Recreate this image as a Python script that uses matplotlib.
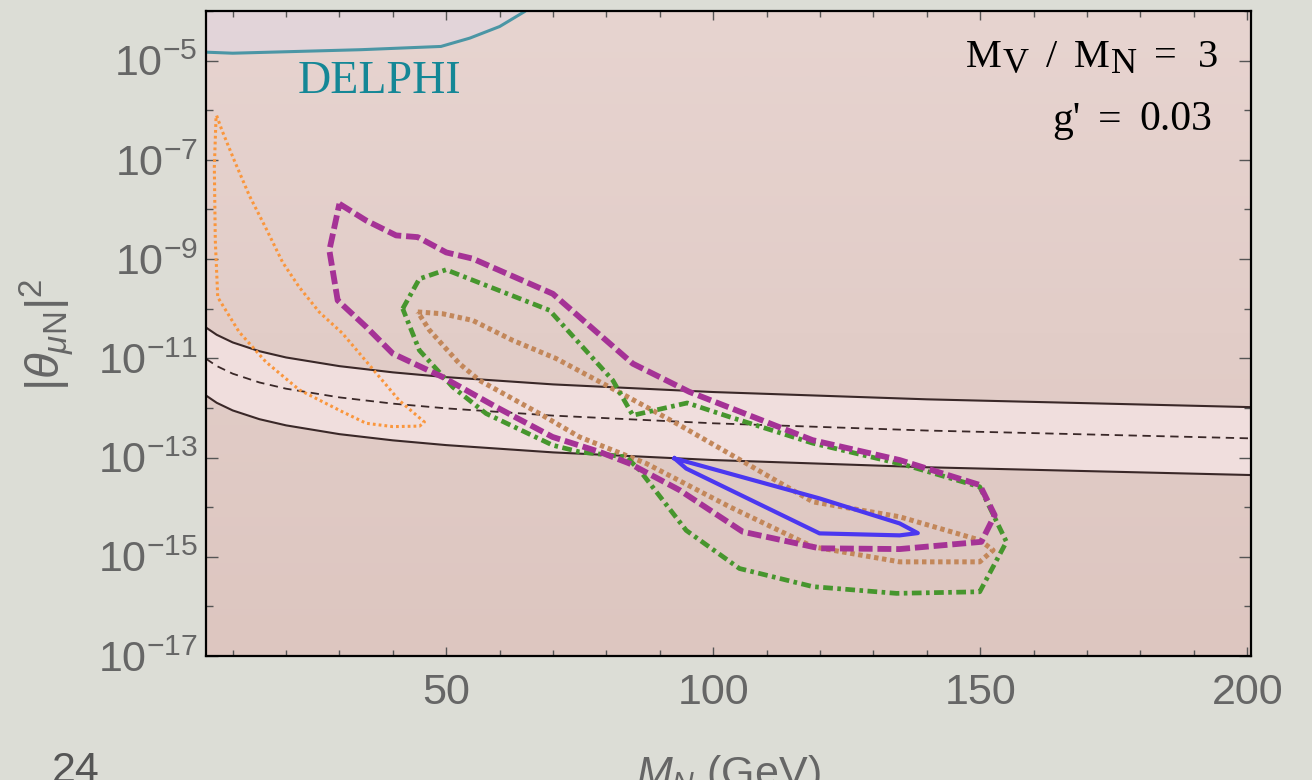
import numpy as np
import matplotlib
matplotlib.use("Agg")
import matplotlib.pyplot as plt
from matplotlib.ticker import FixedLocator, FixedFormatter, NullFormatter
from matplotlib.colors import LinearSegmentedColormap
from matplotlib.transforms import IdentityTransform

plt.rcParams['font.family'] = ['Liberation Sans', 'DejaVu Sans']
plt.rcParams['mathtext.fontset'] = 'custom'
plt.rcParams['mathtext.rm'] = 'Liberation Sans'
plt.rcParams['mathtext.it'] = 'Liberation Sans:italic'
plt.rcParams['mathtext.bf'] = 'Liberation Sans:bold'
plt.rcParams['lines.scale_dashes'] = False

# ---------------- data ----------------
# DELPHI exclusion boundary (M_N in GeV, |theta|^2)
delphi_m = [5, 10, 34, 49, 54.4, 60, 64.7, 66]
delphi_theta2 = [1.48e-5, 1.41e-5, 1.66e-5, 1.93e-5, 2.84e-5, 4.87e-5, 9.8e-5, 1.3e-4]

# seesaw band: central value and its upper / lower edges
band_m = [5, 7, 10, 15, 20, 30, 40, 50, 70, 100, 140, 201]
band_central = [9.8e-12, 7.0e-12, 4.9e-12, 3.26e-12, 2.44e-12, 1.63e-12,
                1.22e-12, 9.8e-13, 7.0e-13, 4.9e-13, 3.5e-13, 2.43e-13]
band_upper = [4.17e-11, 2.98e-11, 2.09e-11, 1.39e-11, 1.04e-11, 6.95e-12,
              5.21e-12, 4.17e-12, 2.98e-12, 2.09e-12, 1.49e-12, 1.035e-12]
band_lower = [1.78e-12, 1.27e-12, 8.9e-13, 5.93e-13, 4.45e-13, 2.96e-13,
              2.22e-13, 1.78e-13, 1.27e-13, 8.9e-14, 6.37e-14, 4.43e-14]

# sensitivity contours
orange_m = [6.99, 8.0, 10.3, 13.11, 16.24, 19.35, 22.48, 26.23, 30.54, 35.6, 41.2, 45.9,
            45.0, 40.0, 35.0, 30.6, 22.5, 16.2, 11.2, 7.2, 6.74, 6.56, 6.88, 6.99]
orange_t = [7.8e-7, 3.9e-7, 9.7e-8, 1.91e-8, 4.15e-9, 8.6e-10, 2.7e-10, 8.5e-11, 3.2e-11,
            7.3e-12, 1.41e-12, 5.2e-13,
            4.3e-13, 4.2e-13, 4.9e-13, 8.3e-13, 2.3e-12, 8.5e-12, 3.4e-11, 1.7e-10,
            2.4e-9, 7.1e-8, 7.2e-7, 7.8e-7]

purple_m = [29.98, 34.98, 40.6, 44.65, 50.0, 54.95, 69.94, 84.93, 95.55, 118.6, 134.9,
            149.9, 152.7, 150.2, 134.9, 119.9, 105.5, 93.7, 84.3, 78.7, 69.9, 59.3, 49.3,
            40.0, 35.0, 29.66, 28.1, 29.98]
purple_t = [1.30e-8, 6.0e-9, 3.0e-9, 2.77e-9, 1.36e-9, 1.02e-9, 2.0e-10, 7.8e-12, 2.1e-12,
            2.24e-13, 8.9e-14, 2.8e-14, 6.9e-15, 2.0e-15, 1.43e-15, 1.48e-15, 3.2e-15,
            2.2e-14, 7.6e-14, 1.30e-13, 2.6e-13, 1.05e-12, 4.2e-12, 1.24e-11, 4.3e-11,
            1.47e-10, 1.50e-9, 1.30e-8]

green_m = [41.84, 44.96, 49.97, 69.32, 81.18, 84.93, 95.12, 103.04, 118.6, 136.1, 149.9,
           154.9, 149.9, 134.3, 118.65, 104.9, 94.93, 86.18, 83.69, 74.94, 69.94, 57.46,
           51.2, 44.96, 41.84]
green_t = [1.0e-10, 4.0e-10, 6.1e-10, 9.3e-11, 3.6e-12, 7.1e-13, 1.26e-12, 6.6e-13,
           1.95e-13, 7.0e-14, 2.57e-14, 2.0e-15, 1.97e-16, 1.83e-16, 2.5e-16, 5.8e-16,
           3.4e-15, 5.6e-14, 1.03e-13, 1.30e-13, 1.77e-13, 7.7e-13, 2.64e-12, 1.45e-11,
           1.0e-10]

brown_m = [44.65, 49.33, 54.95, 62.44, 70.57, 79.94, 87.44, 93.68, 106.2, 118.65, 134.9,
           149.9, 152.4, 149.9, 134.9, 118.65, 103.04, 87.44, 74.94, 67.45, 56.2, 52.46,
           46.84, 44.65]
brown_t = [8.6e-11, 7.9e-11, 5.8e-11, 2.3e-11, 9.9e-12, 2.86e-12, 1.05e-12, 4.5e-13,
           7.6e-14, 1.28e-14, 6.4e-15, 2.17e-15, 1.36e-15, 7.9e-16, 7.9e-16, 1.59e-15,
           1.02e-14, 7.6e-14, 2.6e-13, 7.7e-13, 3.6e-12, 7.8e-12, 3.7e-11, 8.6e-11]

blue_m = [92.74, 94.93, 119.9, 134.9, 138.3, 134.9, 119.9, 92.74]
blue_t = [9.6e-14, 6.0e-14, 2.96e-15, 2.7e-15, 3.0e-15, 4.7e-15, 1.5e-14, 9.6e-14]

x_major = [50, 100, 150, 200]
x_minor = [10, 20, 30, 40, 60, 70, 80, 90, 110, 120, 130, 140, 160, 170, 180, 190]
y_major_exp = [-17, -15, -13, -11, -9, -7, -5]
y_minor_exp = [-16, -14, -12, -10, -8, -6, -4]

# ---------------- figure ----------------
W, H = 1312, 780
L, R, T, B = 206, 1251, 11, 656
fig = plt.figure(figsize=(W / 100, H / 100), dpi=100, facecolor='#dcddd6')
rect = [L / W, 1 - B / H, (R - L) / W, (B - T) / H]

bg = fig.add_axes(rect, zorder=0)
grad = np.linspace(0, 1, 256).reshape(-1, 1)
bg.imshow(grad, aspect='auto', extent=[0, 1, 0, 1], origin='upper',
          cmap=LinearSegmentedColormap.from_list('pinkbg', ['#e7d4d0', '#ddc6c0']))
bg.axis('off')

ax = fig.add_axes(rect, zorder=1)
ax.patch.set_visible(False)
ax.set_yscale('log')
ax.set_xlim(5, 200.7)
ax.set_ylim(1e-17, 1e-4)

# DELPHI excluded region
ax.fill_between(delphi_m, delphi_theta2, 1e-2, color='#e2d4d9', lw=0, zorder=1)
ax.plot(delphi_m, delphi_theta2, color='#4b96a5', lw=2.2, zorder=3)

# seesaw band
ax.fill_between(band_m, band_lower, band_upper, color='#f0dedd', lw=0, zorder=1)
ax.plot(band_m, band_upper, color='#3a2828', lw=1.5, zorder=2)
ax.plot(band_m, band_lower, color='#3a2828', lw=1.5, zorder=2)
ax.plot(band_m, band_central, color='#3a2828', lw=1.3, dashes=(6, 4), zorder=2)

# contours
ax.plot(orange_m, orange_t, color='#fa963c', lw=2.2, dashes=(2, 2.2),
        dash_capstyle='butt', zorder=4)
ax.plot(brown_m, brown_t, color='#c3875a', lw=3.6, dashes=(3.2, 2.6),
        dash_capstyle='butt', zorder=5)
ax.plot(green_m, green_t, color='#46962d', lw=3.4, dashes=(7, 3.2, 2.6, 3.2),
        dash_capstyle='butt', zorder=6)
ax.plot(purple_m, purple_t, color='#a53296', lw=4.2, dashes=(10, 3.5),
        dash_capstyle='butt', zorder=7)
ax.plot(blue_m, blue_t, color='#4b37f0', lw=3.0, solid_joinstyle='round', zorder=8)

# axes styling
for s in ax.spines.values():
    s.set_color('black')
    s.set_linewidth(1.6)
    s.set_zorder(10)

ax.xaxis.set_major_locator(FixedLocator(x_major))
ax.xaxis.set_minor_locator(FixedLocator(x_minor))
ax.xaxis.set_minor_formatter(NullFormatter())
ax.yaxis.set_major_locator(FixedLocator([10.0 ** e for e in y_major_exp]))
ax.yaxis.set_major_formatter(FixedFormatter([r'$10^{%d}$' % e for e in y_major_exp]))
ax.yaxis.set_minor_locator(FixedLocator([10.0 ** e for e in y_minor_exp]))
ax.yaxis.set_minor_formatter(NullFormatter())

tick_col = '#555555'
ax.tick_params(which='both', direction='in', top=True, right=True,
               color=tick_col, width=1.0, labelcolor='#666666', labelsize=31)
ax.tick_params(axis='y', which='major', length=8.5, pad=6)
ax.tick_params(axis='y', which='minor', length=5)
ax.tick_params(axis='x', which='major', length=6.5, pad=12)
ax.tick_params(axis='x', which='minor', length=4)

# labels
fig.text(47 / W, 1 - 335 / H, r'$|\theta_{\mu\mathrm{N}}|^2$', rotation=90,
         ha='center', va='center', fontsize=34, color='#666666')
fig.text(728 / W, 1 - 753 / H, r'$M_N$ (GeV)', ha='center', va='top',
         fontsize=31, color='#666666')
fig.text(52 / W, 1 - 782 / H, '24', ha='left', va='baseline', fontsize=31,
         color='#555555')

# annotations (pixel positions, origin at top-left of the figure)
px = IdentityTransform()


def put(s, x, y, size, **kw):
    fig.text(x, H - y, s, transform=px, ha='left', va='baseline', fontsize=size,
             family='Liberation Serif', zorder=20, **kw)


put('DELPHI', 298, 92.7, 33, color='#148796')

serif_parts = [
    ('M', 966, 66.7, 29), ('V', 1003, 73.3, 26), ('/', 1046, 66.7, 29),
    ('M', 1074, 66.7, 29), ('N', 1111, 73.3, 26), ('=', 1154, 66.7, 29),
    ('3', 1198, 66.7, 29),
    ("g'", 1052, 130.5, 30), ('=', 1098, 130.5, 30), ('0.03', 1139, 130.5, 30),
]
for s, x, y, size in serif_parts:
    put(s, x, y, size, color='black')

fig.savefig('out.png', dpi=100, facecolor=fig.get_facecolor())
